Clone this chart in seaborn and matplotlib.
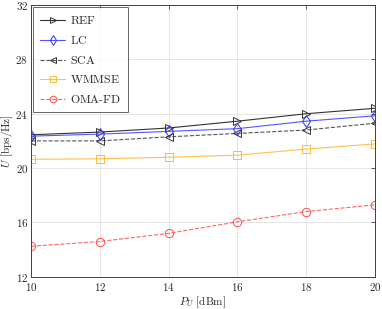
import seaborn as sns
import matplotlib
matplotlib.use('Agg')
import matplotlib.pyplot as plt
import pandas as pd

sns.set_style("whitegrid")
plt.rcParams.update({
    'font.family': 'serif',
    'font.serif': ['cmr10', 'DejaVu Serif'],
    'mathtext.fontset': 'cm',
    'axes.formatter.use_mathtext': True,
    'font.size': 8,
})

power = [10, 12, 14, 16, 18, 20]
ref = [22.45, 22.65, 22.95, 23.45, 24.0, 24.4]
lc = [22.35, 22.5, 22.7, 22.9, 23.45, 23.85]
sca = [22.0, 22.0, 22.3, 22.55, 22.8, 23.3]
wmmse = [20.65, 20.68, 20.8, 20.95, 21.4, 21.78]
oma_fd = [14.25, 14.6, 15.2, 16.05, 16.8, 17.3]

series = [
    ("REF", ref, "#333333", "#333333", ">", "-"),
    ("LC", lc, "#5555ff", "#3333ff", "d", "-"),
    ("SCA", sca, "#555555", "#333333", "<", "--"),
    ("WMMSE", wmmse, "#ffc04d", "#ffb833", "s", "-"),
    ("OMA-FD", oma_fd, "#ff6666", "#ff4d4d", "o", "--"),
]

fig, ax = plt.subplots(figsize=(3.82, 3.09), dpi=100)
fig.subplots_adjust(left=0.081, right=0.982, top=0.984, bottom=0.104)

for name, vals, c, mc, m, ls in series:
    df = pd.DataFrame({"x": power, "y": vals})
    sns.lineplot(data=df, x="x", y="y", ax=ax, color=c, marker=m, linestyle=ls,
                 linewidth=0.8, markersize=6, markerfacecolor='none',
                 markeredgecolor=mc, markeredgewidth=0.7,
                 label=name + r"$\qquad\;\,$")

ax.set_xlim(10, 20)
ax.set_ylim(12, 32)
ax.set_xticks([10, 12, 14, 16, 18, 20])
ax.set_yticks([12, 16, 20, 24, 28, 32])
ax.set_xlabel(r"$P_U$ [dBm]", labelpad=1)
ax.set_ylabel(r"$U$ [bps/Hz]", labelpad=0)
ax.grid(True, color="#e6e6e6", linewidth=0.7)
for s in ax.spines.values():
    s.set_color("#404040")
    s.set_linewidth(0.7)
ax.tick_params(direction='in', length=3, width=0.6, color="#404040",
               top=True, right=True, pad=3)
ax.tick_params(axis='y', pad=2)

leg = ax.legend(loc='upper left', fontsize=8.5, frameon=True, fancybox=False,
                edgecolor="#404040", borderpad=0.6, labelspacing=0.65,
                handlelength=2.1, handletextpad=0.4, markerscale=0.8,
                bbox_to_anchor=(0.0, 1.0), borderaxespad=0.2)
leg.get_frame().set_linewidth(0.7)

plt.savefig("out.png", dpi=100)
plt.close()
